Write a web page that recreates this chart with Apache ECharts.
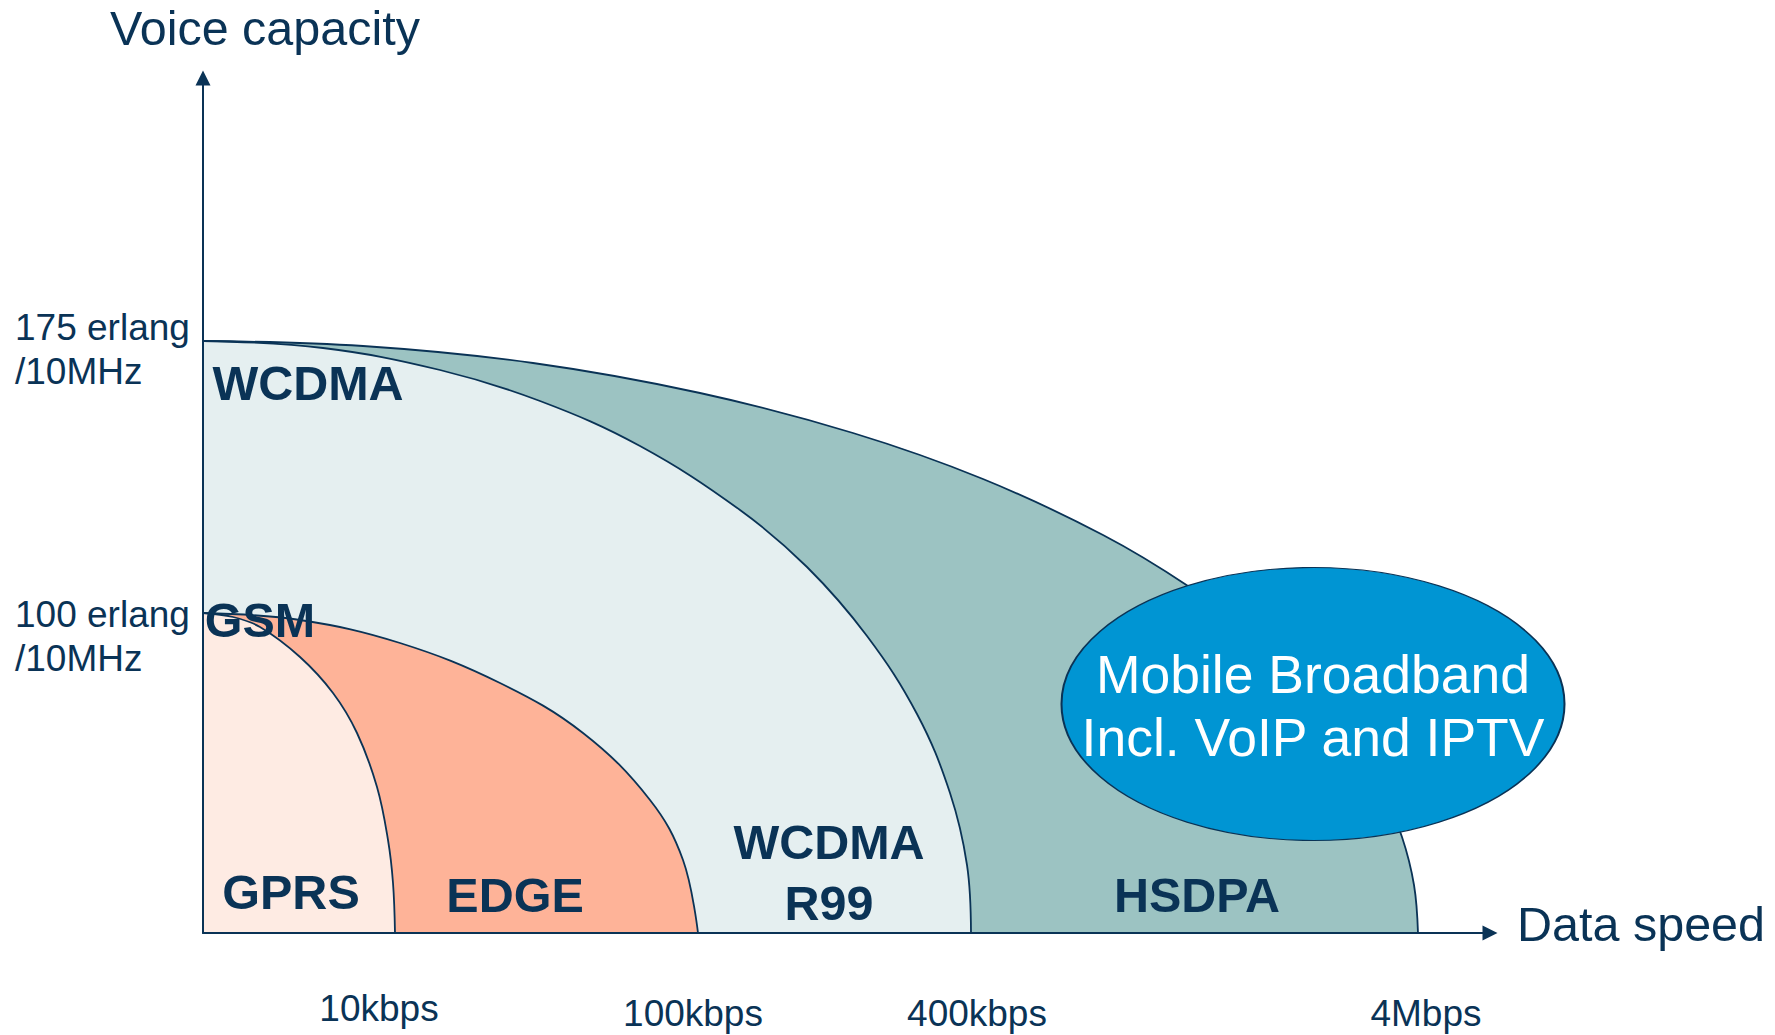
<!DOCTYPE html>
<html>
<head>
<meta charset="utf-8">
<script src="https://cdn.jsdelivr.net/npm/echarts@6/dist/echarts.min.js"></script>
<style>
html,body{margin:0;padding:0;background:#ffffff;}
#chart{width:1775px;height:1035px;}
</style>
</head>
<body>
<div id="chart"></div>
<script>
// ---- Data (schematic chart: x = position along "Data speed", y = position along "Voice capacity") ----
const gprsCurve  = [[0,320],[30,316],[57,306],[97,276],[130,240],[154,200],[174,146],[185,93],[190,50],[192,0]];
const edgeCurve  = [[0,320],[97,313],[197,290],[297,250],[380,200],[447,133],[480,73],[495,0]];
const r99Curve   = [[0,592],[120,585],[237,563],[337,532],[437,487],[537,423],[604,366],[664,297],[714,219],[747,140],[764,68],[768,0]];
const hsdpaCurve = [[0,592],[160,587],[330,570],[497,540],[650,500],[780,454],[900,398],[985,347],[1047,300],[1100,251],[1150,191],[1180,141],[1199,96],[1211,48],[1215,0]];

const speedTickValues = [176, 490, 774, 1223];
const speedTickLabels = ['10kbps', '100kbps', '400kbps', '4Mbps'];

const capacityLevels = [592, 321];
const capacityLabels = ['175 erlang\n/10MHz', '100 erlang\n/10MHz'];

const regionNames   = ['WCDMA', 'GSM', 'GPRS', 'EDGE', 'WCDMA\nR99', 'HSDPA'];
const regionAnchors = [[105,550],[57,313],[88,41],[312,38],[626,61],[994,38]];

const bubbleCenter = [1110, 229];
const bubbleText = 'Mobile Broadband\nIncl. VoIP and IPTV';

// ---- Styling ----
const NAVY = '#0a3356';
const FONT = 'Liberation Sans, Arial, Helvetica, sans-serif';
const X_MAX = 1287, Y_MAX = 855;
const LABEL_X = -188;               // left edge of the capacity labels, in x-axis units
const CAPACITY_SHIFT = [8, 24];      // vertical nudge of each two-line capacity label

function area(name, data, fill) {
  return {
    name: name, type: 'line', data: data,
    smooth: 0.38,
    showSymbol: false, symbol: 'none', silent: true,
    lineStyle: {color: NAVY, width: 1.8},
    areaStyle: {color: fill, opacity: 1},
    xAxisIndex: 0, yAxisIndex: 0, z: 2
  };
}

const chart = echarts.init(document.getElementById('chart'), null, {renderer: 'svg'});

chart.setOption({
  animation: false,
  backgroundColor: '#ffffff',
  grid: {left: 203, right: 285, top: 78, bottom: 102, containLabel: false, outerBoundsMode: 'none'},
  xAxis: [{
    type: 'value', min: 0, max: X_MAX, z: 10,
    splitLine: {show: false}, axisTick: {show: false},
    axisLine: {show: true, lineStyle: {color: NAVY, width: 2}, symbol: ['none', 'triangle'], symbolSize: [15, 15]},
    name: 'Data speed', nameLocation: 'end', nameGap: 27,
    nameTextStyle: {fontFamily: FONT, fontSize: 48.5, lineHeight: 18, color: NAVY, align: 'left', verticalAlign: 'bottom'},
    axisLabel: {
      show: true, customValues: speedTickValues, margin: 62.5,
      fontFamily: FONT, fontSize: 37, color: NAVY, verticalAlign: 'top',
      formatter: function (v) {
        const i = speedTickValues.indexOf(v);
        return i === 0 ? '{lift|' + speedTickLabels[i] + '}' : '{n|' + speedTickLabels[i] + '}';
      },
      rich: {
        n:    {fontFamily: FONT, fontSize: 37, lineHeight: 36, color: NAVY},
        lift: {fontFamily: FONT, fontSize: 37, lineHeight: 25, color: NAVY}
      }
    }
  }],
  yAxis: [{
    type: 'value', min: 0, max: Y_MAX, z: 10,
    splitLine: {show: false}, axisTick: {show: false}, axisLabel: {show: false},
    axisLine: {show: true, lineStyle: {color: NAVY, width: 2}, symbol: ['none', 'triangle'], symbolSize: [15, 15]},
    name: 'Voice capacity', nameLocation: 'end', nameGap: 26.5,
    nameTextStyle: {fontFamily: FONT, fontSize: 48.5, lineHeight: 47, color: NAVY, padding: [0, 0, 0, 124]}
  }],
  series: [
    area('HSDPA', hsdpaCurve, '#9cc3c2'),
    area('WCDMA R99', r99Curve, '#e5eff0'),
    area('EDGE', edgeCurve, '#feb398'),
    area('GPRS', gprsCurve, '#feebe3'),
    {
      name: 'Mobile Broadband', type: 'scatter', silent: true, clip: false, z: 5,
      xAxisIndex: 0, yAxisIndex: 0,
      data: [bubbleCenter],
      symbol: 'circle', symbolSize: [503, 273],
      itemStyle: {color: '#0095d3', borderColor: NAVY, borderWidth: 1.5, opacity: 1},
      label: {
        show: true, position: 'inside', formatter: bubbleText, offset: [0, 2],
        fontFamily: FONT, fontSize: 53.5, lineHeight: 63, color: '#ffffff'
      }
    },
    {
      name: 'Region labels', type: 'scatter', silent: true, clip: false, z: 6,
      xAxisIndex: 0, yAxisIndex: 0,
      symbolSize: 0, itemStyle: {opacity: 1},
      data: regionNames.map(function (n, i) { return {name: n, value: regionAnchors[i]}; }),
      label: {
        show: true, position: 'inside', formatter: '{b}', opacity: 1,
        fontFamily: FONT, fontSize: 48.5, fontWeight: 'bold', lineHeight: 61, color: NAVY
      }
    },
    {
      name: 'Capacity labels', type: 'scatter', silent: true, clip: false, z: 6,
      xAxisIndex: 0, yAxisIndex: 0,
      symbolSize: 0, itemStyle: {opacity: 1},
      data: capacityLevels.map(function (lv, i) {
        return {name: capacityLabels[i], value: [LABEL_X, lv], label: {offset: [0, CAPACITY_SHIFT[i]]}};
      }),
      label: {
        show: true, position: 'inside', align: 'left', verticalAlign: 'middle', formatter: '{b}', opacity: 1,
        fontFamily: FONT, fontSize: 37, lineHeight: 44, color: NAVY
      }
    }
  ]
});
</script>
</body>
</html>
